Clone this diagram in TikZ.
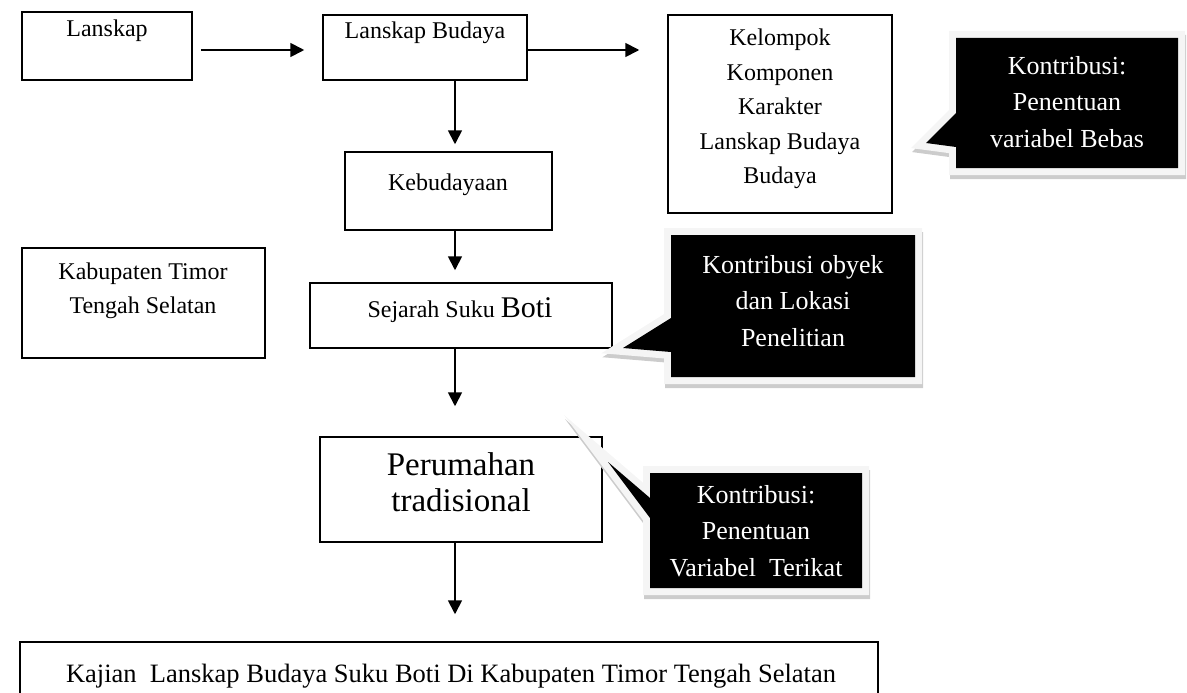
\documentclass[tikz,border=0pt]{standalone}
\usepackage{fontspec}
\setmainfont{Liberation Serif}
\usetikzlibrary{arrows.meta}
\begin{document}
\begin{tikzpicture}[x=1pt,y=-1pt,
  box/.style={draw=black,line width=1.5pt,inner sep=0pt},
  txt/.style={font=\fontsize{24}{34.5}\selectfont,align=center,inner sep=0pt},
  wtxt/.style={txt,font=\fontsize{26}{36.5}\selectfont,text=white},
  arr/.style={-{Triangle[length=14pt,width=14pt]},line width=1.8pt},
  callout/.style={fill=black,
    preaction={draw=gray!40,fill=gray!40,line width=14pt,transform canvas={shift={(1pt,-4pt)}}},
    preaction={draw=gray!8,line width=14pt}}]
\useasboundingbox (0,0) rectangle (1187,693);

% boxes
\node[box,minimum width=170pt,minimum height=68pt] (lansk) at (107,46) {};
\node[box,minimum width=204pt,minimum height=65pt] (lb) at (425,47.5) {};
\node[box,minimum width=224pt,minimum height=198pt] (kel) at (780,114) {};
\node[box,minimum width=207pt,minimum height=78pt] (keb) at (448.5,191) {};
\node[box,minimum width=243pt,minimum height=110pt] (kab) at (143.5,303) {};
\node[box,minimum width=302pt,minimum height=65pt] (sej) at (461,315.5) {};
\node[box,minimum width=282pt,minimum height=105pt] (per) at (461,489.5) {};
\node[box,minimum width=858pt,minimum height=80pt] (kaj) at (449,682) {};

% texts
\node[txt] (tlansk) at (107,31) {Lanskap};
\node[txt] (tlb) at (425,33) {Lanskap Budaya};
\node[txt] (tkel) at (780,109) {Kelompok\\Komponen\\Karakter\\Lanskap Budaya\\Budaya};
\node[txt] (tkeb) at (448,185) {Kebudayaan};
\node[txt] (tkab) at (143,291) {Kabupaten Timor\\Tengah Selatan};
\node[txt] (tsej) at (460,310) {Sejarah Suku {\fontsize{30}{34}\selectfont Boti}};
\node[txt,font=\fontsize{33}{36}\selectfont] (tper) at (461,482) {Perumahan\\tradisional};
\node[txt,font=\fontsize{26.5}{30}\selectfont] (tkaj) at (451,676) {Kajian\ \ Lanskap Budaya Suku Boti Di Kabupaten Timor Tengah Selatan};

% callouts
\path[callout] (956,38) -- (1178,38) -- (1178,168) -- (956,168) -- (956,147) -- (926,143) -- (956,113) -- cycle;
\node[wtxt] (c1) at (1067,102) {Kontribusi:\\Penentuan\\variabel Bebas};
\path[callout] (671,235) -- (915,235) -- (915,377) -- (671,377) -- (671,352) -- (623,348) -- (671,318) -- cycle;
\node[wtxt] (c2) at (793,301) {Kontribusi obyek\\dan Lokasi\\Penelitian};
\path[callout] (650,473) -- (862,473) -- (862,588) -- (650,588) -- (650,518) -- (608,462) -- (650,498) -- cycle;
\node[wtxt] (c3) at (756,531) {Kontribusi:\\Penentuan\\Variabel\ \ Terikat};

% connectors
\coordinate (hy) at (0,50);
\coordinate (vx) at (455,0);
\draw[arr,shorten <=8pt,shorten >=18pt] (lansk.east |- hy) -- (lb.west |- hy);
\draw[arr,shorten >=28pt] (lb.east |- hy) -- (kel.west |- hy);
\draw[arr,shorten >=7pt] (lb.south -| vx) -- (keb.north -| vx);
\draw[arr,shorten >=12pt] (keb.south -| vx) -- (sej.north -| vx);
\draw[arr,shorten >=30pt] (sej.south -| vx) -- (per.north -| vx);
\draw[arr,shorten >=27pt] (per.south -| vx) -- (kaj.north -| vx);
\end{tikzpicture}
\end{document}
